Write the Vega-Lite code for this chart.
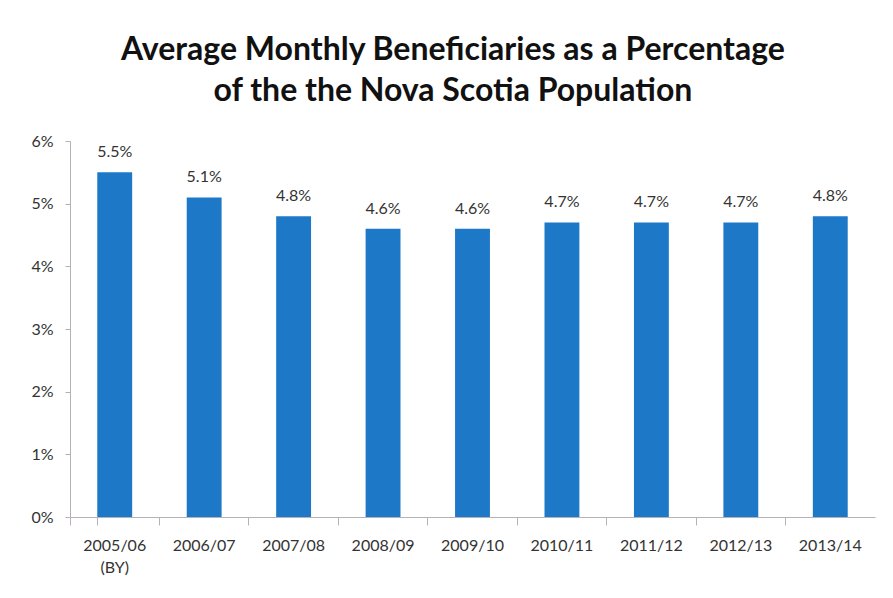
{
  "$schema": "https://vega.github.io/schema/vega-lite/v6.json",
  "width": 805,
  "height": 376,
  "autosize": {"type": "none"},
  "padding": {"left": 70, "top": 141, "right": 18, "bottom": 81},
  "background": "white",
  "title": {
    "text": ["Average Monthly Beneficiaries as a Percentage", "of the the Nova Scotia Population"],
    "anchor": "middle",
    "frame": "bounds",
    "font": "Lato",
    "fontSize": 32,
    "fontWeight": "bold",
    "color": "#111111",
    "lineHeight": 41,
    "offset": 25
  },
  "data": {
    "values": [
      {"year": "2005/06 (BY)", "value": 0.055},
      {"year": "2006/07", "value": 0.051},
      {"year": "2007/08", "value": 0.048},
      {"year": "2008/09", "value": 0.046},
      {"year": "2009/10", "value": 0.046},
      {"year": "2010/11", "value": 0.047},
      {"year": "2011/12", "value": 0.047},
      {"year": "2012/13", "value": 0.047},
      {"year": "2013/14", "value": 0.048}
    ]
  },
  "encoding": {
    "x": {
      "field": "year",
      "type": "nominal",
      "sort": null,
      "scale": {"paddingInner": 0.61, "paddingOuter": 0.305},
      "axis": {
        "title": null,
        "labelAngle": 0,
        "labelExpr": "split(datum.label, ' ')",
        "labelFont": "Lato",
        "labelFontSize": 16,
        "labelColor": "#333333",
        "labelPadding": 12,
        "labelLineHeight": 22,
        "bandPosition": -0.782,
        "tickExtra": true,
        "tickSize": 8,
        "tickColor": "#b8b0b8",
        "domainColor": "#b8b0b8",
        "grid": false
      }
    },
    "y": {
      "field": "value",
      "type": "quantitative",
      "scale": {"domain": [0, 0.06], "nice": false},
      "axis": {
        "title": null,
        "values": [0, 0.01, 0.02, 0.03, 0.04, 0.05, 0.06],
        "format": ".0%",
        "labelFont": "Lato",
        "labelFontSize": 16,
        "labelColor": "#333333",
        "labelPadding": 12,
        "tickSize": 5,
        "tickColor": "#b8b0b8",
        "domainColor": "#b8b0b8",
        "grid": false
      }
    }
  },
  "layer": [
    {"mark": {"type": "bar", "color": "#1e78c8"}},
    {
      "mark": {"type": "text", "baseline": "bottom", "dy": -12, "font": "Lato", "fontSize": 16, "color": "#333333"},
      "encoding": {"text": {"field": "value", "type": "quantitative", "format": ".1%"}}
    }
  ],
  "config": {"view": {"stroke": null}}
}
